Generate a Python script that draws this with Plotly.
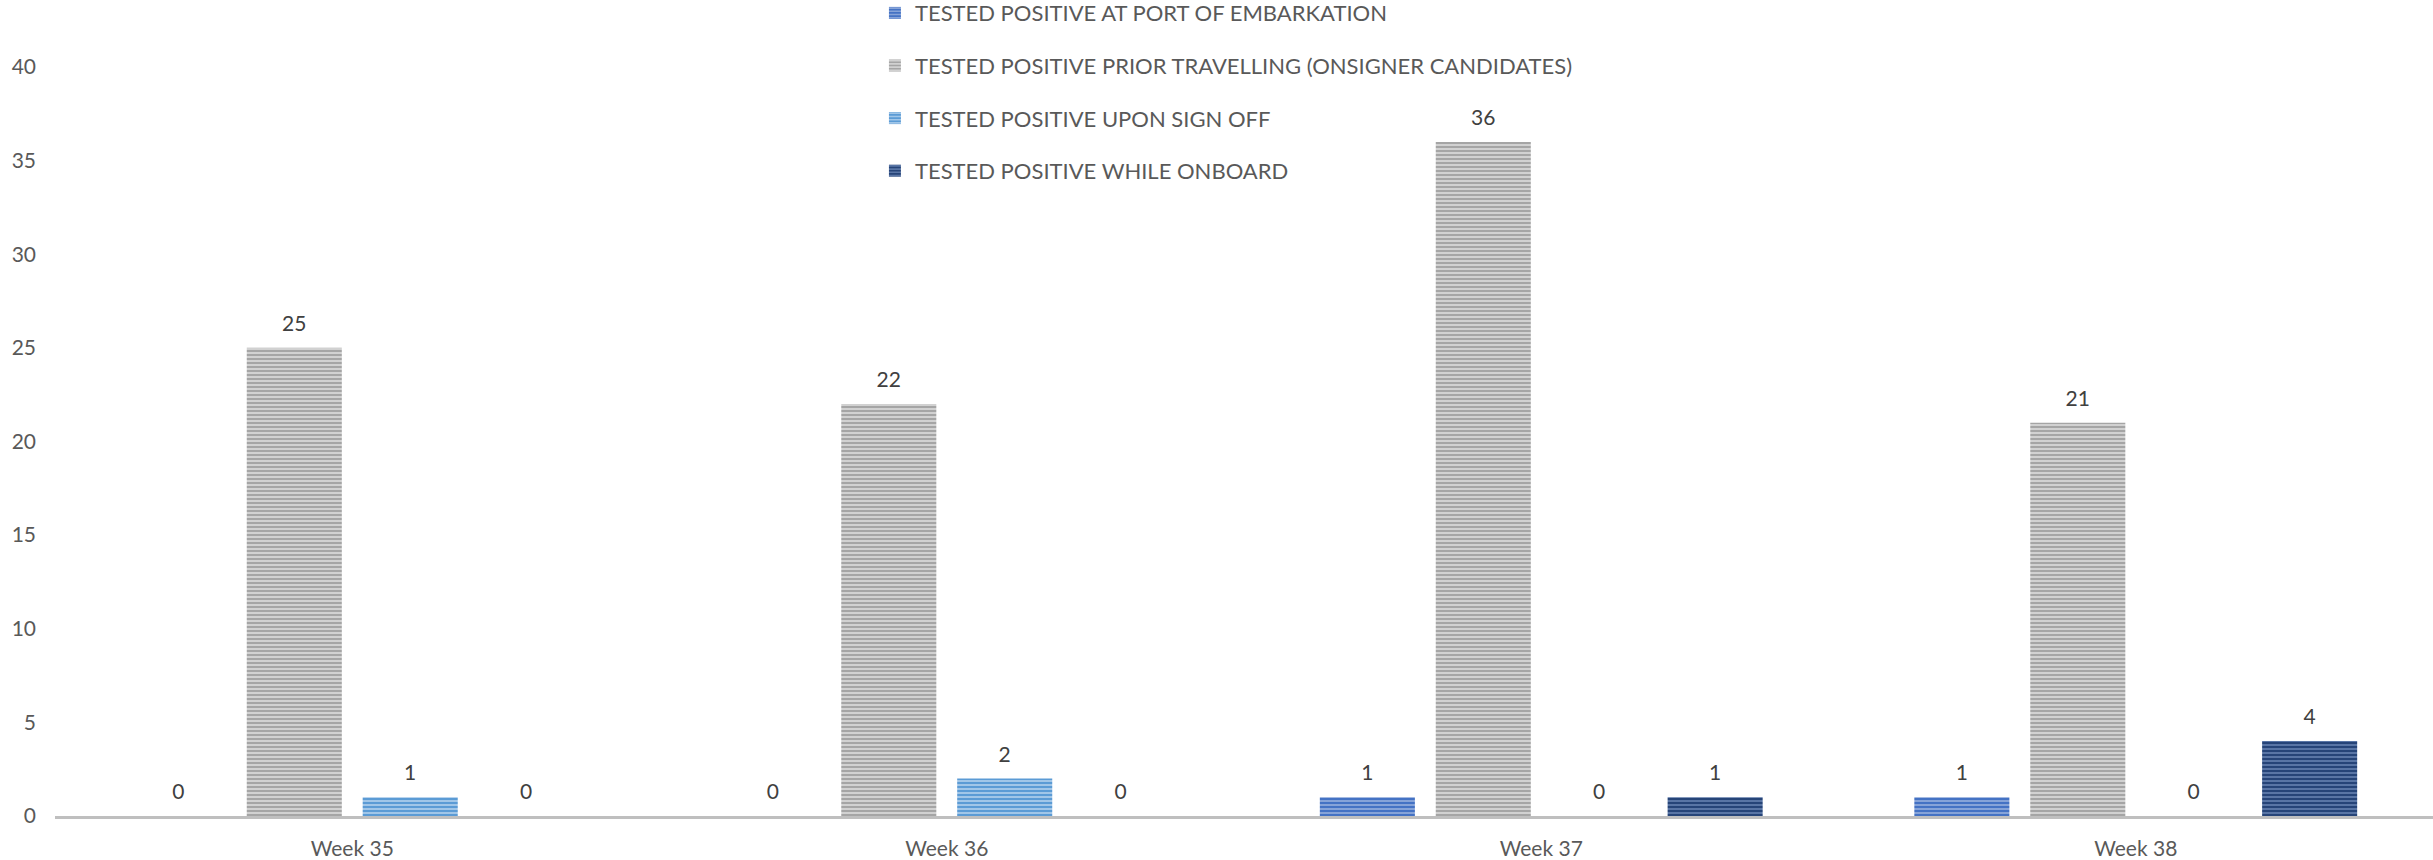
import plotly.graph_objects as go

# Weekly counts of positive tests by category
weeks = ["Week 35", "Week 36", "Week 37", "Week 38"]
port_embarkation = [0, 0, 1, 1]
prior_travelling = [25, 22, 36, 21]
upon_sign_off = [1, 2, 0, 0]
while_onboard = [0, 0, 1, 4]

series_names = [
    "TESTED POSITIVE AT PORT OF EMBARKATION",
    "TESTED POSITIVE PRIOR TRAVELLING (ONSIGNER CANDIDATES)",
    "TESTED POSITIVE UPON SIGN OFF",
    "TESTED POSITIVE WHILE ONBOARD",
]
series_values = [port_embarkation, prior_travelling, upon_sign_off, while_onboard]
base_colors = ["#4472C4", "#A5A5A5", "#5B9BD5", "#264478"]
stripe_colors = ["#8EA9DB", "#D6D6D6", "#A9CBEB", "#5F7BAA"]

y_ticks = [0, 5, 10, 15, 20, 25, 30, 35, 40]

FONT = "Lato, 'Open Sans', sans-serif"
TEXT_COLOR = "#595959"
GAP = 0.22

fig = go.Figure()
for i, (name, vals) in enumerate(zip(series_names, series_values)):
    fig.add_trace(
        go.Bar(
            x=weeks,
            y=vals,
            name=name,
            legendgroup=f"g{i}",
            offsetgroup=f"s{i}",
            marker=dict(
                color=base_colors[i],
                line=dict(width=0),
                pattern=dict(
                    shape="-",
                    bgcolor=base_colors[i],
                    fgcolor=stripe_colors[i],
                    fillmode="replace",
                    size=4,
                    solidity=0.45,
                ),
            ),
        )
    )

# Value labels: grouped text points sitting above each bar
for i, vals in enumerate(series_values):
    fig.add_trace(
        go.Scatter(
            x=weeks,
            y=vals,
            mode="markers+text",
            text=[str(v) for v in vals],
            textposition="top center",
            textfont=dict(family=FONT, size=21, color="#404040"),
            marker=dict(size=17, opacity=0, color=base_colors[i]),
            offsetgroup=f"s{i}",
            legendgroup=f"g{i}",
            showlegend=False,
            hoverinfo="skip",
            cliponaxis=False,
        )
    )

fig.update_layout(
    width=2433,
    height=860,
    margin=dict(l=55, r=0, t=67, b=44, autoexpand=False),
    paper_bgcolor="white",
    plot_bgcolor="white",
    barmode="group",
    bargap=GAP,
    bargroupgap=0.18,
    scattermode="group",
    scattergap=GAP,
    font=dict(family=FONT, size=21, color=TEXT_COLOR),
    showlegend=True,
    legend=dict(
        xref="paper",
        yref="paper",
        x=0.3448,
        y=1.100,
        xanchor="left",
        yanchor="top",
        orientation="v",
        tracegroupgap=21,
        font=dict(family=FONT, size=22, color=TEXT_COLOR),
        bgcolor="rgba(0,0,0,0)",
        itemclick=False,
    ),
    xaxis=dict(
        showline=True,
        linecolor="#BFBFBF",
        linewidth=3,
        showgrid=False,
        ticks="",
        ticklabelstandoff=12,
        tickfont=dict(family=FONT, size=21, color=TEXT_COLOR),
        fixedrange=True,
    ),
    yaxis=dict(
        range=[0, 40],
        tickvals=y_ticks,
        showline=False,
        showgrid=False,
        zeroline=False,
        ticks="",
        ticklabelstandoff=18,
        tickfont=dict(family=FONT, size=21, color=TEXT_COLOR),
        fixedrange=True,
    ),
)

fig.write_html("out.html")
